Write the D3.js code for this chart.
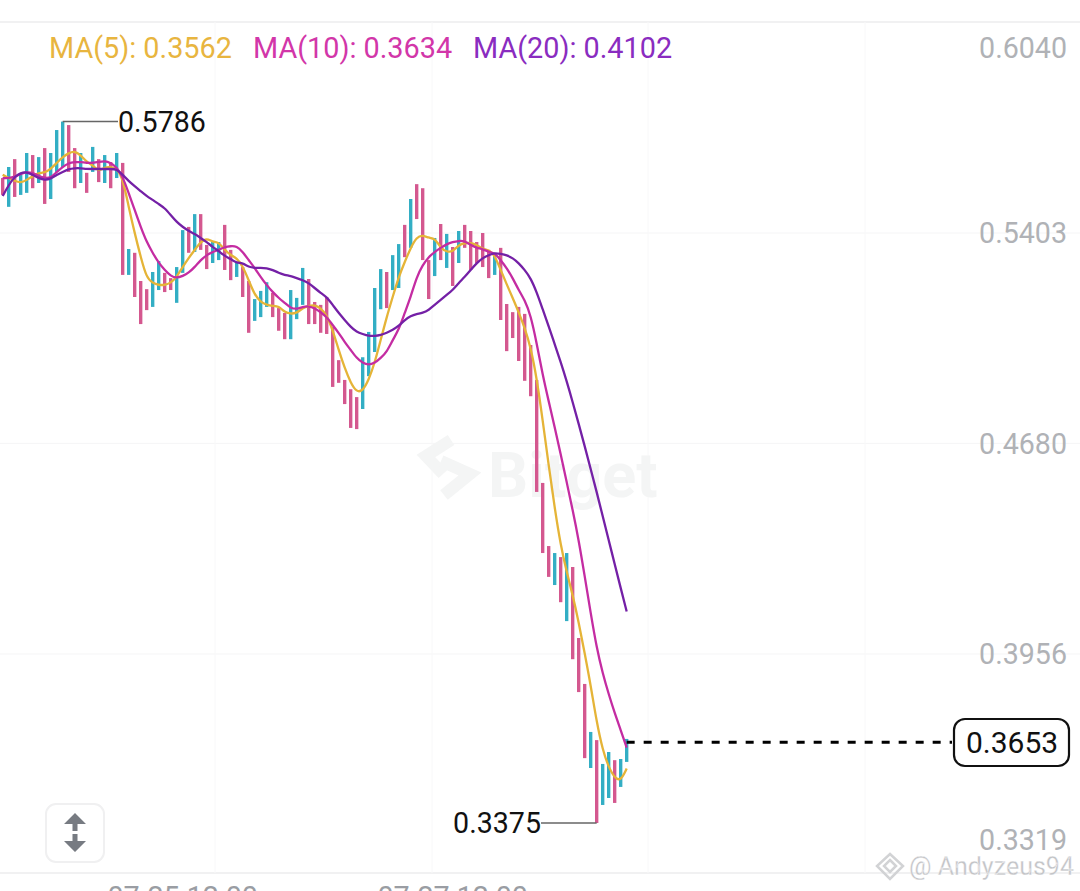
<!DOCTYPE html>
<html><head><meta charset="utf-8">
<script src="https://cdn.jsdelivr.net/npm/d3@7"></script>
<style>html,body{margin:0;padding:0;background:#fff;overflow:hidden}svg{display:block}text{font-family:Roboto,sans-serif}</style>
</head><body><div id="chart"></div>
<script>
const yTicks=[0.6040,0.5403,0.4680,0.3956,0.3319];
const xTickIndex=[30,75];
const xTickLabels=["07-25 12:00","07-27 12:00"];
const lastPrice=0.3653;
const maNames=["MA(5)","MA(10)","MA(20)"];
const high=[.5592,.5630,.5657,.5603,.5678,.5671,.5664,.5695,.5678,.5757,.5786,.5774,.5695,.5678,.5610,.5699,.5657,.5671,.5647,.5678,.5644,.5348,.5335,.5238,.5210,.5269,.5307,.5266,.5248,.5286,.5413,.5424,.5468,.5468,.5362,.5372,.5372,.5431,.5345,.5300,.5286,.5238,.5176,.5204,.5234,.5197,.5145,.5128,.5207,.5180,.5283,.5245,.5166,.5156,.5183,.5080,.4966,.4898,.4866,.4839,.4976,.5063,.5214,.5279,.5269,.5327,.5365,.5431,.5520,.5571,.5557,.5310,.5386,.5434,.5400,.5355,.5410,.5431,.5410,.5372,.5403,.5345,.5327,.5352,.5159,.5131,.5149,.5125,.5018,.4898,.4544,.4327,.4303,.4289,.4303,.4255,.4011,.3853,.3688,.3660,.3578,.3619,.3591,.3595,.3664];
const low=[.5534,.5493,.5527,.5534,.5541,.5557,.5575,.5503,.5520,.5613,.5630,.5613,.5557,.5575,.5541,.5613,.5578,.5575,.5557,.5592,.5259,.5259,.5183,.5090,.5138,.5149,.5207,.5200,.5207,.5163,.5266,.5335,.5338,.5345,.5279,.5300,.5310,.5276,.5241,.5252,.5183,.5060,.5101,.5114,.5149,.5114,.5067,.5038,.5038,.5107,.5156,.5090,.5090,.5060,.5056,.4874,.4888,.4815,.4733,.4729,.4798,.4911,.4994,.5141,.5145,.5207,.5214,.5320,.5352,.5451,.5310,.5176,.5255,.5310,.5283,.5221,.5300,.5352,.5276,.5300,.5286,.5248,.5259,.5104,.4997,.5042,.4963,.4895,.4842,.4513,.4303,.4221,.4193,.4134,.4069,.3938,.3825,.3598,.3564,.3375,.3437,.3461,.3444,.3499,.3585];
const direction=["d","u","d","u","u","d","u","d","u","u","u","d","d","u","d","u","d","u","d","u","d","u","d","d","d","u","u","d","d","u","u","d","u","d","d","u","u","d","d","u","d","d","u","u","u","d","d","d","u","u","u","d","d","d","d","d","d","d","d","d","u","u","u","u","d","u","u","d","u","d","d","d","u","d","u","d","u","d","d","d","d","d","u","d","d","d","d","d","d","d","d","d","u","d","u","d","d","d","u","d","u","u","d","u","u"];
const ma5=[.5603,.5592,.5582,.5575,.5585,.5599,.5610,.5610,.5623,.5644,.5664,.5678,.5685,.5671,.5647,.5637,.5613,.5630,.5630,.5626,.5592,.5493,.5403,.5321,.5248,.5231,.5224,.5224,.5231,.5252,.5286,.5317,.5345,.5372,.5386,.5372,.5372,.5345,.5327,.5317,.5290,.5241,.5190,.5166,.5156,.5152,.5152,.5131,.5125,.5128,.5145,.5152,.5156,.5145,.5121,.5070,.5001,.4939,.4888,.4856,.4860,.4898,.4956,.5035,.5114,.5183,.5252,.5303,.5352,.5389,.5396,.5386,.5386,.5352,.5338,.5338,.5362,.5369,.5369,.5362,.5348,.5345,.5327,.5276,.5227,.5180,.5131,.5077,.5011,.4905,.4760,.4605,.4458,.4330,.4238,.4159,.4066,.3959,.3849,.3722,.3626,.3567,.3530,.3519,.3562];
const ma10=[.5592,.5592,.5596,.5606,.5613,.5610,.5599,.5592,.5592,.5613,.5630,.5644,.5647,.5647,.5644,.5644,.5647,.5651,.5644,.5630,.5596,.5541,.5482,.5424,.5372,.5335,.5300,.5276,.5255,.5248,.5255,.5266,.5286,.5310,.5327,.5338,.5345,.5355,.5358,.5358,.5338,.5310,.5283,.5252,.5224,.5200,.5180,.5163,.5145,.5141,.5149,.5152,.5145,.5131,.5114,.5087,.5060,.5028,.5001,.4973,.4956,.4949,.4956,.4973,.4994,.5035,.5070,.5128,.5183,.5252,.5293,.5321,.5338,.5352,.5365,.5372,.5376,.5376,.5362,.5352,.5348,.5338,.5335,.5310,.5283,.5248,.5207,.5173,.5121,.5025,.4915,.4825,.4736,.4643,.4547,.4451,.4348,.4224,.4097,.3977,.3890,.3818,.3753,.3695,.3634];
const ma20=[.5530,.5568,.5596,.5610,.5613,.5603,.5592,.5585,.5589,.5603,.5613,.5623,.5626,.5626,.5623,.5623,.5623,.5623,.5623,.5623,.5603,.5582,.5564,.5547,.5530,.5517,.5503,.5489,.5465,.5441,.5424,.5410,.5400,.5386,.5372,.5355,.5341,.5324,.5314,.5300,.5300,.5286,.5283,.5283,.5283,.5276,.5266,.5259,.5255,.5248,.5241,.5231,.5214,.5197,.5183,.5156,.5128,.5104,.5080,.5063,.5056,.5049,.5049,.5052,.5060,.5070,.5083,.5104,.5118,.5125,.5128,.5138,.5156,.5173,.5190,.5207,.5231,.5252,.5276,.5300,.5317,.5327,.5335,.5331,.5327,.5317,.5300,.5276,.5248,.5200,.5141,.5083,.5021,.4960,.4894,.4822,.4747,.4671,.4592,.4513,.4430,.4348,.4265,.4183,.4102];

const W=1080,H=891,FS=28.6;
const svg=d3.select("#chart").append("svg").attr("width",W).attr("height",H);
const x=d3.scaleLinear().domain([0,high.length-1]).range([2.67,626.67]);
const y=d3.scaleLinear().domain([0.6040,0.3319]).range([47.7,839.3]);
const fmt=d3.format(".4f");

// frame and grid
[22,873].forEach(v=>svg.append("line").attr("x1",0).attr("x2",W).attr("y1",v).attr("y2",v).attr("stroke","#ececee").attr("stroke-width",1.5));
svg.selectAll(".hg").data(yTicks.slice(1,4)).join("line").attr("x1",0).attr("x2",W)
  .attr("y1",d=>y(d)).attr("y2",d=>y(d)).attr("stroke","#f5f5f6");
svg.selectAll(".vg").data([215,432,648,865]).join("line").attr("y1",22).attr("y2",873)
  .attr("x1",d=>d).attr("x2",d=>d).attr("stroke","#f8f8f9");

// exchange watermark
const wm=svg.append("g").attr("fill","none").attr("stroke","#f4f5f5").attr("stroke-width",12);
wm.append("path").attr("d","M451 440 L426 456 L443 474");
wm.append("path").attr("d","M441 461 L470 474 L444 495");
svg.append("text").attr("x",488).attr("y",497).attr("font-size",63).attr("font-weight",700)
  .attr("fill","#f4f5f5").text("Bitget");

// bars
svg.selectAll(".bar").data(high).join("line").attr("class","bar")
  .attr("x1",(d,i)=>x(i)).attr("x2",(d,i)=>x(i))
  .attr("y1",d=>y(d)).attr("y2",(d,i)=>y(low[i]))
  .attr("stroke",(d,i)=>direction[i]==="u"?"#33aec4":"#d4588f").attr("stroke-width",3.4);

// moving averages
const line=d3.line().x((d,i)=>x(i)).y(d=>y(d)).curve(d3.curveBasis);
const maColors=["#e5b437","#c42ca2","#7420a6"];
[ma5,ma10,ma20].forEach((s,k)=>svg.append("path").attr("d",line(s)).attr("fill","none")
  .attr("stroke",maColors[k]).attr("stroke-width",2.3).attr("stroke-linejoin","round"));

// legend
const legendColors=["#e8b53f","#d236a9","#8a2cc0"];
const legendX=[49,253,473];
[ma5,ma10,ma20].forEach((s,k)=>svg.append("text").attr("x",legendX[k]).attr("y",48).attr("dy","0.36em")
  .attr("font-size",28.8).attr("fill",legendColors[k]).text(maNames[k]+": "+fmt(s[s.length-1])));

// y axis labels
svg.selectAll(".yl").data(yTicks).join("text").attr("x",1067).attr("y",d=>y(d)).attr("dy","0.36em")
  .attr("text-anchor","end").attr("font-size",FS).attr("fill","#b0b2b6").text(fmt);

// x axis labels (clipped by page bottom)
svg.selectAll(".xl").data(xTickIndex).join("text").attr("x",d=>x(d)).attr("y",907)
  .attr("text-anchor","middle").attr("font-size",FS).attr("fill","#9a9da3").text((d,i)=>xTickLabels[i]);

// high / low callouts
const hi=d3.maxIndex(high), lo=d3.minIndex(low);
svg.append("line").attr("x1",x(hi)).attr("x2",118).attr("y1",y(high[hi])).attr("y2",y(high[hi])).attr("stroke","#666").attr("stroke-width",1.5);
svg.append("text").attr("x",118).attr("y",y(high[hi])).attr("dy","0.36em").attr("font-size",FS).attr("fill","#111").text(fmt(high[hi]));
svg.append("line").attr("x1",541).attr("x2",x(lo)).attr("y1",y(low[lo])).attr("y2",y(low[lo])).attr("stroke","#666").attr("stroke-width",1.5);
svg.append("text").attr("x",541).attr("y",y(low[lo])).attr("dy","0.36em").attr("text-anchor","end").attr("font-size",FS).attr("fill","#111").text(fmt(low[lo]));

// last price
svg.append("line").attr("x1",x(high.length-1)).attr("x2",952).attr("y1",y(lastPrice)).attr("y2",y(lastPrice))
  .attr("stroke","#000").attr("stroke-width",3).attr("stroke-dasharray","8 9");
svg.append("rect").attr("x",954).attr("y",719).attr("width",115).attr("height",47).attr("rx",11)
  .attr("fill","#fff").attr("stroke","#111").attr("stroke-width",2.2);
svg.append("text").attr("x",1012).attr("y",742.5).attr("dy","0.36em").attr("text-anchor","middle")
  .attr("font-size",30).attr("fill","#111").text(fmt(lastPrice));

// scale button
svg.append("rect").attr("x",46).attr("y",804).attr("width",58).attr("height",58).attr("rx",10)
  .attr("fill","#fff").attr("stroke","#f0f0f1").attr("stroke-width",2);
svg.append("path").attr("fill","#777b82")
  .attr("d","M75 813 L86 824 L77.5 824 L77.5 831 L72.5 831 L72.5 824 L64 824 Z M72.5 834 L77.5 834 L77.5 841 L86 841 L75 852 L64 841 L72.5 841 Z");

// author watermark
const am=svg.append("g").attr("fill","none").attr("stroke","#d2d3d5").attr("stroke-width",2.5);
am.append("path").attr("d","M890 854 L903 866 L890 879 L877 866 Z");
am.append("path").attr("d","M890 860 L896 866 L890 872 L884 866 Z");
svg.append("text").attr("x",909).attr("y",866).attr("dy","0.36em").attr("font-size",25)
  .attr("fill","#c3c4c7").attr("stroke","#fff").attr("stroke-width",0.3).text("@ Andyzeus94");
</script></body></html>
